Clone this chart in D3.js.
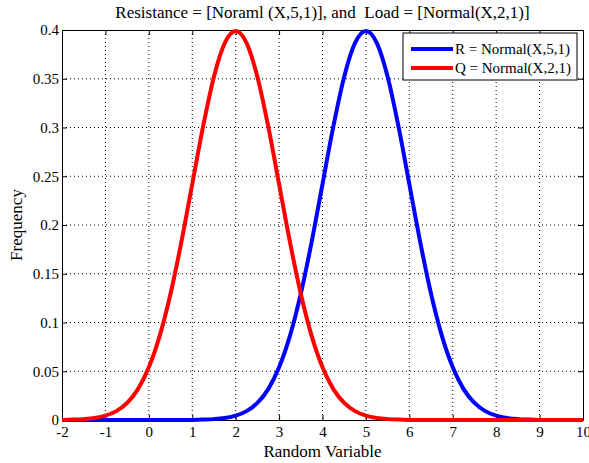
<!DOCTYPE html>
<html>
<head>
    <meta charset="utf-8">
    <script src="https://d3js.org/d3.v7.min.js"></script>
    <style>
        body { margin: 0; background: #fff; }
        * { font-family: "Liberation Serif", "Times New Roman", serif; }
    </style>
</head>
<body>
<svg id="graph" width="589" height="463"></svg>
<script>
const xs = [-2, -1.75, -1.5, -1.25, -1, -0.75, -0.5, -0.25, 0, 0.25, 0.5, 0.75,
    1, 1.25, 1.5, 1.75, 2, 2.25, 2.5, 2.75, 3, 3.25, 3.5, 3.75,
    4, 4.25, 4.5, 4.75, 5, 5.25, 5.5, 5.75, 6, 6.25, 6.5, 6.75,
    7, 7.25, 7.5, 7.75, 8, 8.25, 8.5, 8.75, 9, 9.25, 9.5, 9.75, 10];

// R = Normal(X,5,1)
const rValues = [0, 0, 0, 0, 0, 0, 0, 0, 0, 0, 0, 0,
    0.0001, 0.0004, 0.0009, 0.0020, 0.0044, 0.0091, 0.0175, 0.0317, 0.0540, 0.0863, 0.1295, 0.1826,
    0.2420, 0.3011, 0.3521, 0.3867, 0.3989, 0.3867, 0.3521, 0.3011, 0.2420, 0.1826, 0.1295, 0.0863,
    0.0540, 0.0317, 0.0175, 0.0091, 0.0044, 0.0020, 0.0009, 0.0004, 0.0001, 0, 0, 0, 0];

// Q = Normal(X,2,1)
const qValues = [0.0001, 0.0004, 0.0009, 0.0020, 0.0044, 0.0091, 0.0175, 0.0317, 0.0540, 0.0863, 0.1295, 0.1826,
    0.2420, 0.3011, 0.3521, 0.3867, 0.3989, 0.3867, 0.3521, 0.3011, 0.2420, 0.1826, 0.1295, 0.0863,
    0.0540, 0.0317, 0.0175, 0.0091, 0.0044, 0.0020, 0.0009, 0.0004, 0.0001, 0, 0, 0,
    0, 0, 0, 0, 0, 0, 0, 0, 0, 0, 0, 0, 0];

const xTicks = [-2, -1, 0, 1, 2, 3, 4, 5, 6, 7, 8, 9, 10];
const yTicks = [0, 0.05, 0.1, 0.15, 0.2, 0.25, 0.3, 0.35, 0.4];

const seriesNames = ["R = Normal(X,5,1)", "Q = Normal(X,2,1)"];
const seriesColors = ["#0000ff", "#ff0000"];

let svg = d3.select("svg#graph");
const margin = { top: 30, right: 6, bottom: 43, left: 62 };
const width = +svg.attr("width");
const height = +svg.attr("height");
const chartWidth = width - margin.left - margin.right;
const chartHeight = height - margin.top - margin.bottom;

const xScale = d3.scaleLinear().domain([-2, 10]).range([0, chartWidth]);
const yScale = d3.scaleLinear().domain([0, 0.4]).range([chartHeight, 0]);

let chart = svg.append("g")
    .attr("transform", `translate(${margin.left},${margin.top})`);

// dotted grid
chart.append("g").selectAll("line").data(xTicks.slice(1, -1)).join("line")
    .attr("x1", d => xScale(d)).attr("x2", d => xScale(d))
    .attr("y1", 0).attr("y2", chartHeight)
    .attr("stroke", "#000").attr("stroke-width", 1)
    .attr("stroke-dasharray", "1,3");
chart.append("g").selectAll("line").data(yTicks.slice(1, -1)).join("line")
    .attr("y1", d => yScale(d)).attr("y2", d => yScale(d))
    .attr("x1", 0).attr("x2", chartWidth)
    .attr("stroke", "#000").attr("stroke-width", 1)
    .attr("stroke-dasharray", "1,3");

// axes, ticks pointing inward like matlab
let bottomAxis = d3.axisBottom(xScale).tickValues(xTicks).tickFormat(d => String(d)).tickSizeInner(-5).tickSizeOuter(0).tickPadding(6);
let leftAxis = d3.axisLeft(yScale).tickValues(yTicks).tickFormat(d => String(d)).tickSizeInner(-5).tickSizeOuter(0).tickPadding(3);
let topAxis = d3.axisTop(xScale).tickValues(xTicks).tickFormat("").tickSizeInner(-5).tickSizeOuter(0);
let rightAxis = d3.axisRight(yScale).tickValues(yTicks).tickFormat("").tickSizeInner(-5).tickSizeOuter(0);

chart.append("g").attr("class", "axis").attr("transform", `translate(0,${chartHeight})`).call(bottomAxis);
chart.append("g").attr("class", "axis").call(leftAxis);
chart.append("g").attr("class", "axis").call(topAxis);
chart.append("g").attr("class", "axis").attr("transform", `translate(${chartWidth},0)`).call(rightAxis);

svg.selectAll(".axis text")
    .style("font-size", "15px")
    .style("fill", "#000")
    .style("font-family", "'Liberation Serif', serif");
svg.selectAll(".axis path, .axis line").attr("stroke", "#000");

// curves
const line = d3.line()
    .x((d, i) => xScale(xs[i]))
    .y(d => yScale(d))
    .curve(d3.curveMonotoneX);

[rValues, qValues].forEach((vals, k) => {
    chart.append("path")
        .datum(vals)
        .attr("d", line)
        .attr("fill", "none")
        .attr("stroke", seriesColors[k])
        .attr("stroke-width", 4)
        .attr("stroke-linejoin", "round");
});

// legend
let legend = chart.append("g").attr("transform", `translate(${chartWidth - 180},3)`);
legend.append("rect")
    .attr("x", 0).attr("y", 0)
    .attr("width", 174).attr("height", 47)
    .attr("fill", "#fff").attr("stroke", "#000").attr("stroke-width", 1);
legend.selectAll("line.key").data(seriesNames).join("line")
    .attr("class", "key")
    .attr("x1", 8).attr("x2", 50)
    .attr("y1", (d, i) => 16 + i * 19).attr("y2", (d, i) => 16 + i * 19)
    .attr("stroke", (d, i) => seriesColors[i])
    .attr("stroke-width", 4);
legend.selectAll("text").data(seriesNames).join("text")
    .attr("x", 52)
    .attr("y", (d, i) => 16 + i * 19)
    .attr("dy", "0.35em")
    .style("font-size", "15px")
    .text(d => d);

// title and labels
svg.append("text")
    .attr("x", margin.left + chartWidth / 2)
    .attr("y", 18)
    .attr("text-anchor", "middle")
    .style("font-size", "17px")
    .style("white-space", "pre")
    .text("Resistance = [Noraml (X,5,1)], and  Load = [Normal(X,2,1)]");

svg.append("text")
    .attr("x", margin.left + chartWidth / 2)
    .attr("y", 457)
    .attr("text-anchor", "middle")
    .style("font-size", "17px")
    .text("Random Variable");

svg.append("text")
    .attr("transform", `translate(22,${margin.top + chartHeight / 2}) rotate(-90)`)
    .attr("text-anchor", "middle")
    .style("font-size", "17px")
    .text("Frequency");
</script>
</body>
</html>
